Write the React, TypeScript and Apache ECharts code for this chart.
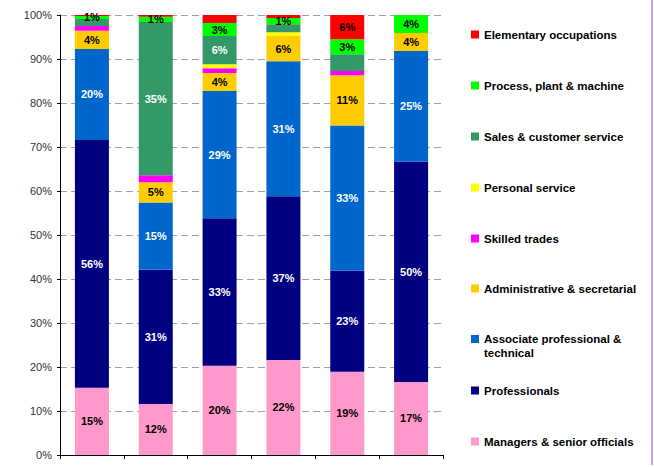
import React, { useEffect, useRef } from "react";
import * as echarts from "echarts";

// Categories (no visible names in the reference)
const categories = ["1", "2", "3", "4", "5", "6"];

// Series values (percent of each bar), bottom to top
const managers = [15.3, 11.6, 20.3, 21.6, 18.9, 16.6];
const professionals = [56.3, 30.5, 33.5, 37.2, 23.0, 50.1];
const associate = [20.7, 15.3, 28.9, 30.7, 33.0, 25.1];
const admin = [4.1, 4.6, 4.1, 5.7, 11.4, 4.1];
const skilled = [1.1, 1.6, 1.1, 0, 1.0, 0];
const personal = [0, 0, 0.9, 0.9, 0, 0];
const sales = [1.6, 34.8, 6.4, 1.8, 3.8, 0];
const processPlant = [0.7, 1.2, 3.0, 1.4, 3.4, 4.1];
const elementary = [0.2, 0.4, 1.8, 0.7, 5.5, 0];

// Data labels as printed on the chart ("" = no label)
const managersLabels = ["15%", "12%", "20%", "22%", "19%", "17%"];
const professionalsLabels = ["56%", "31%", "33%", "37%", "23%", "50%"];
const associateLabels = ["20%", "15%", "29%", "31%", "33%", "25%"];
const adminLabels = ["4%", "5%", "4%", "6%", "11%", "4%"];
const skilledLabels = ["", "", "", "", "", ""];
const personalLabels = ["", "", "", "", "", ""];
const salesLabels = ["", "35%", "6%", "", "", ""];
const processLabels = ["1%", "1%", "3%", "1%", "3%", "4%"];
const elementaryLabels = ["", "", "", "", "6%", ""];

// Series names (legend text)
const seriesNames = [
  "Managers & senior officials",
  "Professionals",
  "Associate professional & technical",
  "Administrative & secretarial",
  "Skilled trades",
  "Personal service",
  "Sales & customer service",
  "Process, plant & machine",
  "Elementary occupations",
];

// Y axis ticks
const yMin = 0;
const yMax = 100;
const yInterval = 10;

const FONT = "'Liberation Sans', Arial, sans-serif";
const TWO_LINE = "Associate professional & technical";

export default function App() {
  const ref = useRef<HTMLDivElement>(null);

  useEffect(() => {
    if (!ref.current) return;
    const chart = echarts.init(ref.current, undefined, { renderer: "svg" });

    const values = [managers, professionals, associate, admin, skilled, personal, sales, processPlant, elementary];
    const labels = [
      managersLabels,
      professionalsLabels,
      associateLabels,
      adminLabels,
      skilledLabels,
      personalLabels,
      salesLabels,
      processLabels,
      elementaryLabels,
    ];
    const colors = ["#FF99CC", "#000080", "#0066CC", "#FFCC00", "#FF00FF", "#FFFF00", "#339966", "#00FF00", "#FF0000"];
    const labelColors = ["#000", "#fff", "#fff", "#000", "#000", "#000", "#fff", "#000", "#000"];

    const series = seriesNames.map((name, s) => ({
      name,
      type: "bar",
      stack: "total",
      barWidth: 34,
      itemStyle: { color: colors[s] },
      data: values[s].map((v, i) => ({
        value: v,
        label: {
          show: labels[s][i] !== "",
          position: "inside",
          formatter: labels[s][i],
          color: labelColors[s],
          fontFamily: FONT,
          fontSize: 11,
          fontWeight: "bold",
        },
      })),
    }));

    // legend, top to bottom (reverse of stack)
    const legendOrder = seriesNames.slice().reverse();
    const legendCenters = [34, 85, 136, 187, 238, 288, 339, 390, 441];
    const legends = legendOrder.map((name, k) => {
      const twoLine = name === TWO_LINE;
      return {
        orient: "vertical",
        left: 471,
        top: twoLine ? legendCenters[k] - 21 : legendCenters[k] - 6.5,
        padding: 0,
        icon: "rect",
        itemWidth: 8,
        itemHeight: 8,
        selectedMode: false,
        data: [name],
        formatter: (n: string) => (n === TWO_LINE ? "\nAssociate professional &\ntechnical" : n),
        textStyle: {
          fontFamily: FONT,
          fontSize: 11.5,
          fontWeight: "bold",
          color: "#000",
          lineHeight: 14,
        },
      };
    });

    chart.setOption({
      animation: false,
      backgroundColor: "#fff",
      grid: { left: 60, right: 211, top: 15, bottom: 12, containLabel: false },
      xAxis: {
        type: "category",
        data: categories,
        boundaryGap: true,
        axisLine: { show: true, lineStyle: { color: "#000", width: 1 } },
        axisTick: { show: true, length: 4, lineStyle: { color: "#000" } },
        axisLabel: { show: false },
        splitLine: { show: false },
      },
      yAxis: {
        type: "value",
        min: yMin,
        max: yMax,
        interval: yInterval,
        axisLine: { show: true, lineStyle: { color: "#000", width: 1 } },
        axisTick: { show: true, length: 3, lineStyle: { color: "#000" } },
        axisLabel: {
          formatter: "{value}%",
          color: "#333",
          fontFamily: FONT,
          fontSize: 11,
          margin: 8,
        },
        splitLine: { show: true, lineStyle: { color: "#a0a0a0", type: [7, 4], width: 1.2 } },
      },
      legend: legends,
      series,
      graphic: [
        {
          type: "rect",
          left: 651,
          top: 0,
          shape: { width: 2, height: 465 },
          style: { fill: "#C9A2F2" },
          silent: true,
        },
      ],
    });

    return () => chart.dispose();
  }, []);

  return (
    <div
      ref={ref}
      style={{ position: "absolute", left: 0, top: 0, width: 654, height: 467 }}
    />
  );
}
